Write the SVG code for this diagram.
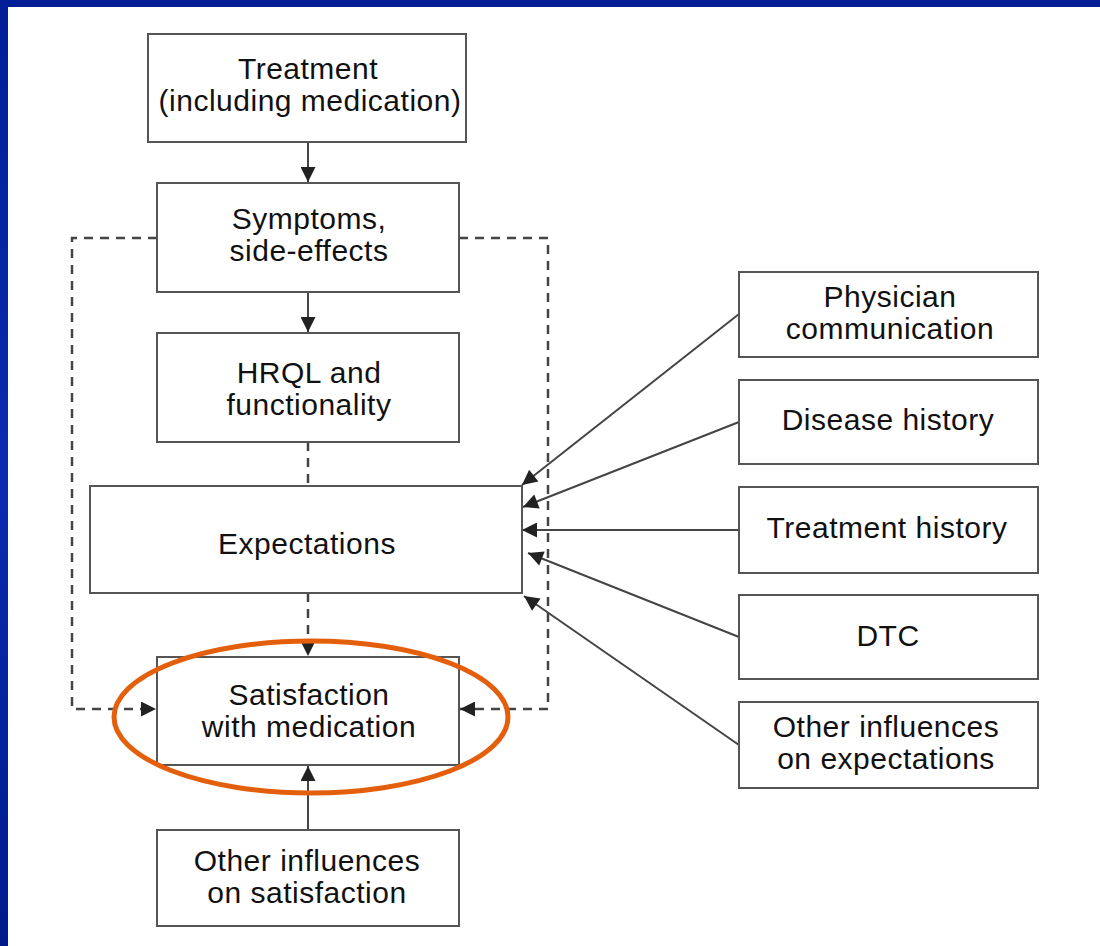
<svg xmlns="http://www.w3.org/2000/svg" width="1100" height="946" viewBox="0 0 1100 946">
<defs>
<style>
.box{fill:#fff;stroke:#555;stroke-width:2}
.t{font-family:"Liberation Sans",Arial,sans-serif;font-size:30px;letter-spacing:0.5px;fill:#111;text-anchor:middle}
.ln{stroke:#444;stroke-width:2;fill:none}
.dash{stroke:#444;stroke-width:2.5;fill:none;stroke-dasharray:9,7}
</style>
<marker id="ah" viewBox="0 0 10 10" refX="10" refY="5" markerWidth="18" markerHeight="15" markerUnits="userSpaceOnUse" orient="auto">
<path d="M0,0 L10,5 L0,10 z" fill="#222"/>
</marker>
<linearGradient id="bg" x1="0" y1="0" x2="0" y2="1">
<stop offset="0" stop-color="#001e96"/>
<stop offset="0.5" stop-color="#0b2bb0"/>
<stop offset="1" stop-color="#001a8c"/>
</linearGradient>
</defs>
<rect x="0" y="0" width="1100" height="946" fill="#fff"/>
<rect x="0" y="0" width="1100" height="7" fill="#001e96"/>
<rect x="0" y="0" width="8" height="946" fill="url(#bg)"/>

<g id="connectors">
<line class="ln" x1="308" y1="142" x2="308" y2="182" marker-end="url(#ah)"/>
<line class="ln" x1="308" y1="292" x2="308" y2="332" marker-end="url(#ah)"/>
<line class="dash" x1="308" y1="442" x2="308" y2="486"/>
<line class="dash" x1="308" y1="593" x2="308" y2="656" marker-end="url(#ah)"/>
<line class="ln" x1="308" y1="830" x2="308" y2="766" marker-end="url(#ah)"/>
<polyline class="dash" points="157,238 72,238 72,709 156,709" marker-end="url(#ah)"/>
<polyline class="dash" points="459,238 548,238 548,709 460,709" marker-end="url(#ah)"/>
<line class="ln" x1="739" y1="314" x2="522" y2="485" marker-end="url(#ah)"/>
<line class="ln" x1="739" y1="422" x2="523" y2="507" marker-end="url(#ah)"/>
<line class="ln" x1="739" y1="530" x2="522" y2="530" marker-end="url(#ah)"/>
<line class="ln" x1="739" y1="637" x2="528" y2="553" marker-end="url(#ah)"/>
<line class="ln" x1="739" y1="745" x2="524" y2="596" marker-end="url(#ah)"/>
</g>

<g id="treatment">
<rect class="box" x="148" y="34" width="318" height="108"/>
<text class="t" x="308" y="79">Treatment</text>
<text class="t" x="310" y="111">(including medication)</text>
</g>
<g id="symptoms">
<rect class="box" x="157" y="183" width="302" height="109"/>
<text class="t" x="309" y="229">Symptoms,</text>
<text class="t" x="309" y="261">side-effects</text>
</g>
<g id="hrql">
<rect class="box" x="157" y="333" width="302" height="109"/>
<text class="t" x="309" y="383">HRQL and</text>
<text class="t" x="309" y="415">functionality</text>
</g>
<g id="expectations">
<rect class="box" x="90" y="486" width="432" height="107"/>
<text class="t" x="307" y="554">Expectations</text>
</g>
<g id="satisfaction">
<rect class="box" x="157" y="657" width="302" height="108"/>
<text class="t" x="309" y="705">Satisfaction</text>
<text class="t" x="309" y="737">with medication</text>
</g>
<g id="other-satisfaction">
<rect class="box" x="157" y="830" width="302" height="96"/>
<text class="t" x="307" y="871">Other influences</text>
<text class="t" x="307" y="903">on satisfaction</text>
</g>
<g id="physician">
<rect class="box" x="739" y="272" width="299" height="85"/>
<text class="t" x="890" y="307">Physician</text>
<text class="t" x="890" y="339">communication</text>
</g>
<g id="disease">
<rect class="box" x="739" y="380" width="299" height="84"/>
<text class="t" x="888" y="430">Disease history</text>
</g>
<g id="treatment-history">
<rect class="box" x="739" y="487" width="299" height="86"/>
<text class="t" x="887" y="538">Treatment history</text>
</g>
<g id="dtc">
<rect class="box" x="739" y="595" width="299" height="84"/>
<text class="t" x="888" y="646">DTC</text>
</g>
<g id="other-expectations">
<rect class="box" x="739" y="702" width="299" height="86"/>
<text class="t" x="886" y="737">Other influences</text>
<text class="t" x="886" y="769">on expectations</text>
</g>
<g id="highlight">
<ellipse cx="311" cy="717" rx="197" ry="76" fill="none" stroke="#e45f0c" stroke-width="5"/>
</g>
</svg>
